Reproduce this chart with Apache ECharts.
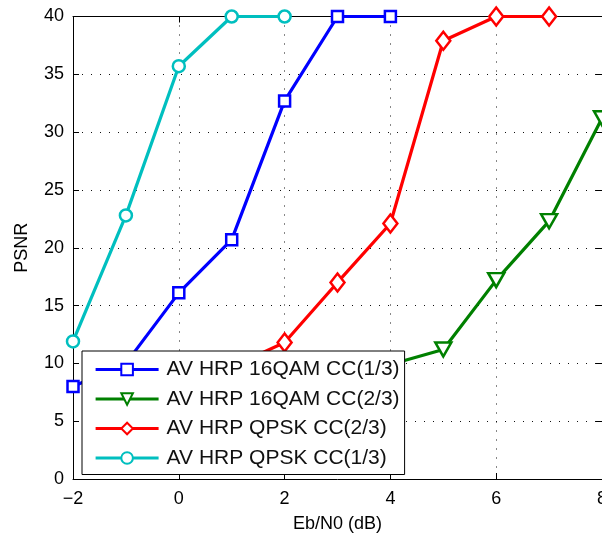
<!DOCTYPE html>
<html><head><meta charset="utf-8">
<script src="https://cdn.jsdelivr.net/npm/echarts@6/dist/echarts.min.js"></script>
<style>html,body{margin:0;padding:0;background:#fff}#c{width:602px;height:536px}</style>
</head><body><div id="c"></div>
<script>
const seriesNames = ['AV HRP 16QAM CC(1/3)','AV HRP 16QAM CC(2/3)','AV HRP QPSK CC(2/3)','AV HRP QPSK CC(1/3)'];
const xBlue = [-2,-1,0,1,2,3,4];
const yBlue = [8.0,10.0,16.1,20.7,32.7,40,40];
const xGreen = [4,5,6,7,8];
const yGreen = [9.9,11.2,17.2,22.3,31.2];
const xRed = [1,2,3,4,5,6,7];
const yRed = [9.7,11.8,17.0,22.1,37.9,40,40];
const xCyan = [-2,-1,0,1,2];
const yCyan = [11.9,22.8,35.7,40,40];
const xTicks = [-2,0,2,4,6,8];
const yTicks = [0,5,10,15,20,25,30,35,40];

const FONT = 'Liberation Sans, Arial, sans-serif';
const zip = (xs, ys) => xs.map((x, i) => [x, ys[i]]);
function mk(name, xs, ys, color, symbol, size, rotate) {
  return {
    name, type: 'line', data: zip(xs, ys), clip: false,
    symbol, symbolSize: size, symbolRotate: rotate || 0,
    color,
    lineStyle: { color, width: 3.2 },
    itemStyle: { color: '#fff', borderColor: color, borderWidth: 2.5 },
    emphasis: { disabled: true }, animation: false, z: 3
  };
}
const chart = echarts.init(document.getElementById('c'), null, { renderer: 'canvas' });
const axisCommon = {
  axisLine: { show: true, onZero: false, lineStyle: { color: '#000', width: 1 } },
  axisTick: { show: true, inside: true, length: 6, lineStyle: { color: '#000' } },
};
chart.setOption({
  animation: false,
  backgroundColor: '#fff',
  textStyle: { fontFamily: FONT },
  grid: { left: 73, right: 0, top: 16.5, bottom: 57, containLabel: false, outerBoundsMode: 'none' },
  xAxis: [
    Object.assign({
      type: 'value', min: -2, max: 8, interval: 2,
      name: 'Eb/N0 (dB)', nameLocation: 'middle', nameGap: 36,
      nameTextStyle: { fontSize: 18, color: '#000', fontFamily: FONT },
      axisLabel: { fontSize: 18, color: '#000', margin: 11, fontFamily: FONT,
        formatter: v => (v < 0 ? '\u2212' + Math.abs(v) : String(v)) },
      splitLine: { show: true, lineStyle: { color: '#111', type: [1, 8], width: 1 } }
    }, axisCommon),
    Object.assign({
      type: 'value', min: -2, max: 8, interval: 2, position: 'top',
      axisLabel: { show: false }, splitLine: { show: false }
    }, axisCommon)
  ],
  yAxis: [
    Object.assign({
      type: 'value', min: 0, max: 40, interval: 5,
      name: 'PSNR', nameLocation: 'middle', nameGap: 42, nameRotate: 90,
      nameTextStyle: { fontSize: 18, color: '#000', fontFamily: FONT },
      axisLabel: { fontSize: 18, color: '#000', margin: 9, fontFamily: FONT },
      splitLine: { show: true, lineStyle: { color: '#111', type: [1, 8], width: 1 } }
    }, axisCommon),
    Object.assign({
      type: 'value', min: 0, max: 40, interval: 5, position: 'right',
      axisLabel: { show: false }, splitLine: { show: false }
    }, axisCommon)
  ],
  legend: {
    data: seriesNames,
    orient: 'vertical', left: 82, top: 351,
    backgroundColor: '#fff', borderColor: '#000', borderWidth: 1,
    padding: [8, 5, 6, 12],
    itemWidth: 63, itemHeight: 14.5, itemGap: 8.5,
    lineStyle: { width: 3.2 },
    textStyle: { fontSize: 21, color: '#111', fontFamily: FONT, lineHeight: 21, padding: [0, 0, 0, 3] },
    selectedMode: false, z: 10
  },
  series: [
    mk(seriesNames[0], xBlue, yBlue, '#0000ff', 'rect', 11),
    mk(seriesNames[1], xGreen, yGreen, '#008000', 'triangle', [16, 14], 180),
    mk(seriesNames[2], xRed, yRed, '#ff0000', 'diamond', [14, 18]),
    mk(seriesNames[3], xCyan, yCyan, '#00bfbf', 'circle', 12)
  ]
});
</script></body></html>
